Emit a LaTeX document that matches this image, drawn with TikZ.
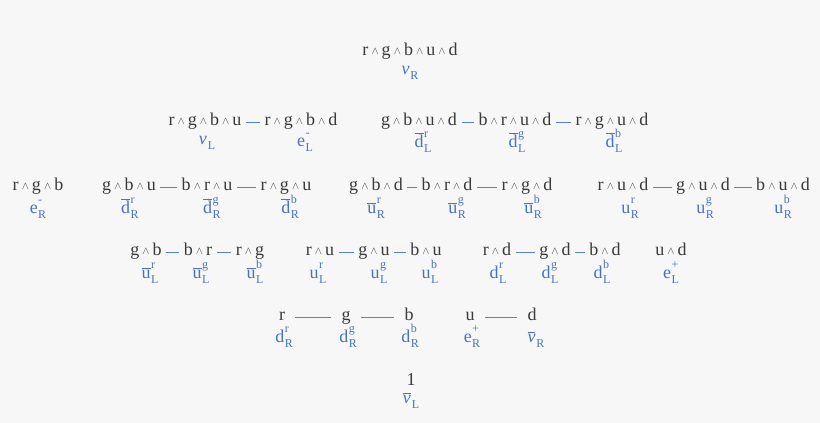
\documentclass[tikz,border=0pt]{standalone}
\usepackage{fontspec}
\setmainfont{Liberation Serif}
\definecolor{symbgrey}{HTML}{3A3A3A}
\definecolor{fieldblue}{HTML}{4A72C0}
\definecolor{paper}{HTML}{F7F7F7}
% wedge between colour letters
\newcommand{\wg}{\hspace{0.17em}\raisebox{0.04em}{\scalebox{0.62}{$\wedge$}}\hspace{0.17em}}
% field names: symbol, upper index, lower index
\newcommand{\idx}[2]{\kern0.5pt\rlap{\raisebox{0.52em}{\fontsize{12}{12}\selectfont #1}}%
  \raisebox{-0.32em}{\fontsize{12}{12}\selectfont #2}}
\newcommand{\fld}[3]{#1\idx{#2}{#3}}
\newcommand{\fldbar}[3]{$\overline{\mbox{#1}}$\idx{#2}{#3}}
\newcommand{\nufld}[1]{{\itshape ν}\kern1pt\raisebox{-0.32em}{\fontsize{12}{12}\selectfont #1}}
\newcommand{\nubar}[1]{$\overline{\mbox{\itshape ν}}$\kern1pt\raisebox{-0.32em}{\fontsize{12}{12}\selectfont #1}}
\begin{document}
\begin{tikzpicture}[x=1pt,y=-1pt]
      % Define styles for nodes
      \tikzstyle{form} = [anchor=base, text=symbgrey, inner ysep=0pt,
      inner xsep=4.5pt, text height=0.65em, text depth=0.2em,
      font=\fontsize{18}{20}\selectfont]
      \tikzstyle{loneform} = [form, inner xsep=10pt]
      \tikzstyle{field} = [anchor=base, text=fieldblue, inner sep=0pt,
      font=\fontsize{18}{20}\selectfont]
      \tikzstyle{link} = [draw=fieldblue!90, line width=0.9pt]

      % Light paper
      \fill[paper] (0,0) rectangle (820,423);
      \useasboundingbox (0,0) rectangle (820,423);

      % Top: five colours
      \node[form] (rgbud) at (410,55) {r\wg g\wg b\wg u\wg d};
      \node[field] (nuR) at (410,74) {\nufld{R}};

      % Four colours
      \node[form] (rgbu) at (205,125) {r\wg g\wg b\wg u};
      \node[form] (rgbd) at (301,125) {r\wg g\wg b\wg d};
      \node[form] (gbud) at (419,125) {g\wg b\wg u\wg d};
      \node[form] (brud) at (515,125) {b\wg r\wg u\wg d};
      \node[form] (rgud) at (612,125) {r\wg g\wg u\wg d};
      \node[field] (nuL) at (207,144) {\nufld{L}};
      \node[field] (eL) at (305,146) {\fld{e}{-}{L}};
      \node[field] (dbrL) at (423,147) {\fldbar{d}{r}{L}};
      \node[field] (dbgL) at (517,147) {\fldbar{d}{g}{L}};
      \node[field] (dbbL) at (614,147) {\fldbar{d}{b}{L}};

      % Three colours
      \node[form] (rgb) at (38,190) {r\wg g\wg b};
      \node[form] (gbu) at (129,190) {g\wg b\wg u};
      \node[form] (bru) at (207,190) {b\wg r\wg u};
      \node[form] (rgu) at (286,190) {r\wg g\wg u};
      \node[form] (gbd) at (376,190) {g\wg b\wg d};
      \node[form] (brd) at (447,190) {b\wg r\wg d};
      \node[form] (rgd) at (527,190) {r\wg g\wg d};
      \node[form] (rud) at (623,190) {r\wg u\wg d};
      \node[form] (gud) at (703,190) {g\wg u\wg d};
      \node[form] (bud) at (783,190) {b\wg u\wg d};
      \node[field] (eR) at (38,213) {\fld{e}{-}{R}};
      \node[field] (dbrR) at (130,213) {\fldbar{d}{r}{R}};
      \node[field] (dbgR) at (212,213) {\fldbar{d}{g}{R}};
      \node[field] (dbbR) at (290,213) {\fldbar{d}{b}{R}};
      \node[field] (ubrR) at (376,213) {\fldbar{u}{r}{R}};
      \node[field] (ubgR) at (457,213) {\fldbar{u}{g}{R}};
      \node[field] (ubbR) at (533,213) {\fldbar{u}{b}{R}};
      \node[field] (urR) at (630,213) {\fld{u}{r}{R}};
      \node[field] (ugR) at (705,213) {\fld{u}{g}{R}};
      \node[field] (ubR) at (783,213) {\fld{u}{b}{R}};

      % Two colours
      \node[form] (gb) at (146,255) {g\wg b};
      \node[form] (br) at (198,255) {b\wg r};
      \node[form] (rg) at (250,255) {r\wg g};
      \node[form] (ru) at (320,255) {r\wg u};
      \node[form] (gu) at (374,255) {g\wg u};
      \node[form] (bu) at (426,255) {b\wg u};
      \node[form] (rd) at (497,255) {r\wg d};
      \node[form] (gd) at (555,255) {g\wg d};
      \node[form] (bd) at (605,255) {b\wg d};
      \node[form] (ud) at (671,255) {u\wg d};
      \node[field] (ubrL) at (150,278) {\fldbar{u}{r}{L}};
      \node[field] (ubgL) at (201,278) {\fldbar{u}{g}{L}};
      \node[field] (ubbL) at (255,278) {\fldbar{u}{b}{L}};
      \node[field] (urL) at (318,278) {\fld{u}{r}{L}};
      \node[field] (ugL) at (379,278) {\fld{u}{g}{L}};
      \node[field] (ubL) at (430,278) {\fld{u}{b}{L}};
      \node[field] (drL) at (498,278) {\fld{d}{r}{L}};
      \node[field] (dgL) at (550,278) {\fld{d}{g}{L}};
      \node[field] (dbL) at (602,278) {\fld{d}{b}{L}};
      \node[field] (epL) at (671,278) {\fld{e}{+}{L}};

      % One colour
      \node[loneform] (r) at (282,320) {r};
      \node[loneform] (g) at (346,320) {g};
      \node[loneform] (b) at (409,320) {b};
      \node[loneform] (u) at (470,320) {u};
      \node[loneform] (d) at (532,320) {d};
      \node[field] (drR) at (284,342) {\fld{d}{r}{R}};
      \node[field] (dgR) at (348,342) {\fld{d}{g}{R}};
      \node[field] (dbR) at (410,342) {\fld{d}{b}{R}};
      \node[field] (epR) at (472,342) {\fld{e}{+}{R}};
      \node[field] (nubR) at (536,342) {\nubar{R}};

      % Empty product
      \node[form] (one) at (411,385) {1};
      \node[field] (nubL) at (411,403) {\nubar{L}};

      % Connections
      \draw[link] (rgbu) -- (rgbd);
      \draw[link] (gbud) -- (brud);
      \draw[link] (brud) -- (rgud);
      \draw[link] (gbu) -- (bru);
      \draw[link] (bru) -- (rgu);
      \draw[link] (gbd) -- (brd);
      \draw[link] (brd) -- (rgd);
      \draw[link] (rud) -- (gud);
      \draw[link] (gud) -- (bud);
      \draw[link] (gb) -- (br);
      \draw[link] (br) -- (rg);
      \draw[link] (ru) -- (gu);
      \draw[link] (gu) -- (bu);
      \draw[link] (rd) -- (gd);
      \draw[link] (gd) -- (bd);
      \draw[link] (r) -- (g);
      \draw[link] (g) -- (b);
      \draw[link] (u) -- (d);
\end{tikzpicture}
\end{document}
